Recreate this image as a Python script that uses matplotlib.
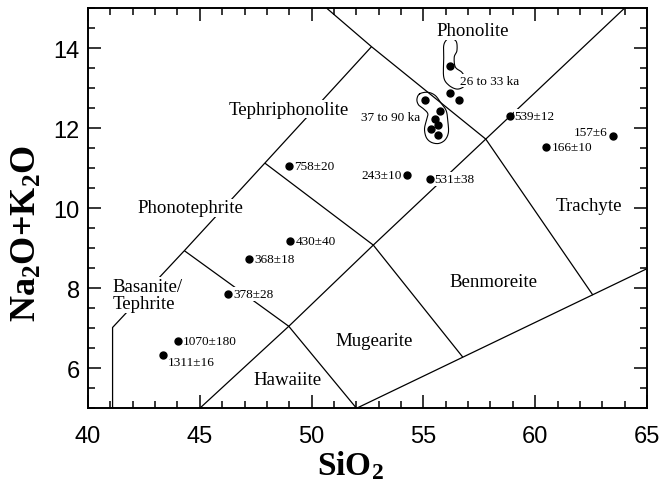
import matplotlib
matplotlib.use('Agg')
import matplotlib.pyplot as plt
import numpy as np
from matplotlib.ticker import MultipleLocator

plt.rcParams['mathtext.fontset'] = 'custom'
plt.rcParams['mathtext.rm'] = 'Liberation Serif:bold'
plt.rcParams['mathtext.it'] = 'Liberation Serif:bold'
plt.rcParams['mathtext.bf'] = 'Liberation Serif:bold'

# ---------------- data ----------------
sample_labels = ['539±12', '157±6', '166±10', '243±10', '531±38', '758±20',
                 '430±40', '368±18', '378±28', '1070±180', '1311±16']
sample_sio2 = [58.86, 63.47, 60.50, 54.27, 55.28, 48.98, 49.05, 47.20, 46.27, 44.01, 43.35]
sample_alk = [12.31, 11.80, 11.52, 10.84, 10.73, 11.05, 9.19, 8.72, 7.86, 6.68, 6.32]
label_side = ['right', 'left', 'right', 'left', 'right', 'right',
              'right', 'right', 'right', 'right', 'right']
label_dy = [0, 3, 0, 0, 0, 0, 0, 0, 0, 0, -4.5]

young_sio2 = [56.21, 56.21, 56.61]          # 26 to 33 ka
young_alk = [13.55, 12.88, 12.71]
old_sio2 = [55.08, 55.75, 55.52, 55.64, 55.35, 55.64]   # 37 to 90 ka
old_alk = [12.71, 12.44, 12.22, 12.07, 11.97, 11.84]

# outlines drawn round the two groups
young_loop_x = [56.21, 56.47, 56.50, 56.38, 56.43, 56.72, 56.90, 56.82, 56.50, 56.13, 55.91, 55.91, 55.91, 56.05]
young_loop_y = [14.25, 14.17, 13.94, 13.78, 13.53, 13.40, 13.22, 13.05, 12.98, 13.08, 13.28, 13.73, 14.07, 14.22]
old_loop_x = [54.83, 55.20, 55.53, 55.79, 56.02, 56.09, 56.12, 55.97, 55.68, 55.35, 55.13, 55.05, 55.13, 55.20, 55.02, 54.79, 54.71]
old_loop_y = [12.86, 12.90, 12.82, 12.63, 12.44, 12.19, 11.90, 11.71, 11.62, 11.65, 11.77, 11.98, 12.19, 12.36, 12.48, 12.58, 12.72]

# TAS field boundaries (SiO2, Na2O+K2O)
boundaries = [
    ([41.10, 41.10, 44.31, 47.91, 52.68], [5.00, 7.02, 8.94, 11.13, 14.04]),
    ([50.68, 52.68, 57.79], [15.00, 14.04, 11.73]),
    ([45.00, 48.98, 52.76, 57.79, 63.99], [5.00, 7.05, 9.08, 11.73, 15.00]),
    ([44.31, 48.98, 52.01], [8.94, 7.05, 5.00]),
    ([47.91, 52.76, 56.76], [11.13, 9.08, 6.28]),
    ([57.79, 62.58], [11.73, 7.83]),
    ([52.01, 65.00], [5.00, 8.49]),
]

field_names = ['Phonolite', 'Tephriphonolite', 'Phonotephrite', 'Basanite/\nTephrite',
               'Trachyte', 'Benmoreite', 'Mugearite', 'Hawaiite']
field_x = [57.20, 48.98, 44.56, 41.11, 62.40, 58.13, 52.80, 48.93]
field_y = [14.44, 12.48, 10.01, 7.83, 10.06, 8.16, 6.69, 5.73]
field_ha = ['center', 'center', 'center', 'left', 'center', 'center', 'center', 'center']

group_labels = ['26 to 33 ka', '37 to 90 ka']
group_x = [56.65, 54.87]
group_y = [13.19, 12.28]
group_ha = ['left', 'right']

xticks = [40, 45, 50, 55, 60, 65]
yticks = [6, 8, 10, 12, 14]


def smooth_closed(xs, ys, n=12):
    pts = np.column_stack([xs, ys])
    m = len(pts)
    out = []
    for i in range(m):
        p0, p1, p2, p3 = pts[(i - 1) % m], pts[i], pts[(i + 1) % m], pts[(i + 2) % m]
        for t in np.linspace(0, 1, n, endpoint=False):
            t2, t3 = t * t, t * t * t
            out.append(0.5 * ((2 * p1) + (-p0 + p2) * t + (2 * p0 - 5 * p1 + 4 * p2 - p3) * t2
                              + (-p0 + 3 * p1 - 3 * p2 + p3) * t3))
    out.append(out[0])
    out = np.array(out)
    return out[:, 0], out[:, 1]


serif = 'Liberation Serif'
sans = 'Liberation Sans'
box = dict(facecolor='white', edgecolor='none', pad=0.6)

fig = plt.figure(figsize=(6.61, 4.81), dpi=100)
ax = fig.add_axes([0.1331, 0.1491, 0.8457, 0.8316])
ax.set_xlim(40, 65)
ax.set_ylim(5, 15)

for bx, by in boundaries:
    ax.plot(bx, by, color='black', lw=0.9, zorder=2, solid_capstyle='butt')

for lx, ly in [(young_loop_x, young_loop_y), (old_loop_x, old_loop_y)]:
    sx, sy = smooth_closed(lx, ly)
    ax.plot(sx, sy, color='black', lw=0.8, zorder=3)

ax.plot(sample_sio2, sample_alk, 'o', color='black', ms=5, zorder=6, ls='none')
ax.plot(young_sio2, young_alk, 'o', color='black', ms=5, zorder=6, ls='none')
ax.plot(old_sio2, old_alk, 'o', color='black', ms=5, zorder=6, ls='none')

for lab, x, y, side, dy in zip(sample_labels, sample_sio2, sample_alk, label_side, label_dy):
    dx = 3.6 if side == 'right' else -3.6
    ax.annotate(lab, (x, y), xytext=(dx, dy), textcoords='offset points',
                ha='left' if side == 'right' else 'right', va='center',
                fontsize=9.5, family=serif, zorder=5, bbox=box)

for lab, x, y, ha in zip(group_labels, group_x, group_y, group_ha):
    ax.text(x, y, lab, ha=ha, va='center', fontsize=9.5, family=serif, zorder=5, bbox=box)

for lab, x, y, ha in zip(field_names, field_x, field_y, field_ha):
    ax.text(x, y, lab, ha=ha, va='center', fontsize=13.6, family=serif, zorder=5,
            linespacing=1.0, bbox=box)

ax.set_xticks(xticks)
ax.set_yticks(yticks)
ax.xaxis.set_minor_locator(MultipleLocator(1))
ax.yaxis.set_minor_locator(MultipleLocator(0.5))
ax.tick_params(which='both', direction='in', top=True, right=True, width=1.1)
ax.tick_params(which='major', length=9.5)
ax.tick_params(which='minor', length=5)
ax.tick_params(axis='x', which='major', pad=12)
ax.tick_params(axis='y', which='major', pad=6)
for t in ax.get_xticklabels() + ax.get_yticklabels():
    t.set_family(sans)
    t.set_fontsize(17)
for s in ax.spines.values():
    s.set_linewidth(1.4)

ax.set_xlabel('SiO$_2$', fontsize=24, family=serif, fontweight='bold')
ax.set_ylabel('Na$_2$O+K$_2$O', fontsize=26, family=serif, fontweight='bold')
ax.xaxis.set_label_coords(0.47, -0.1)
ax.yaxis.set_label_coords(-0.078, 0.44)

fig.savefig('out.png', dpi=100)
